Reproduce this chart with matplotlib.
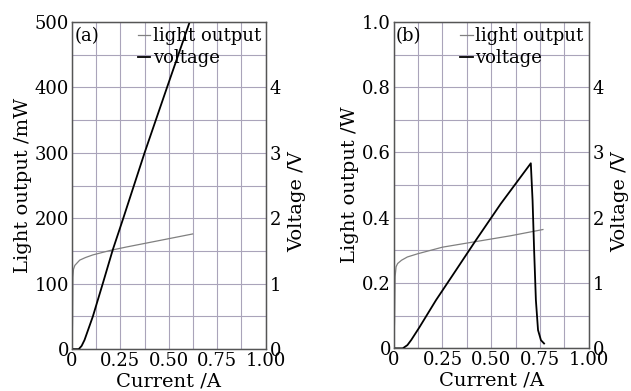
import numpy as np
import matplotlib
matplotlib.use("Agg")
import matplotlib.pyplot as plt
from matplotlib.ticker import MultipleLocator, FixedLocator

plt.rcParams["font.family"] = ["DejaVu Serif"]
plt.rcParams["mathtext.fontset"] = "dejavuserif"

# panel (a): grey curve "light output" (mW), black curve "voltage" (V)
cur_light_a = [0, 0.003, 0.005, 0.008, 0.015, 0.04, 0.07, 0.108, 0.2, 0.28, 0.452, 0.623]
light_a = [0, 40, 110, 122, 128, 136, 140, 144, 151, 156, 166, 176]
cur_volt_a = [0, 0.035, 0.05, 0.065, 0.108, 0.16, 0.211, 0.265, 0.375, 0.491, 0.608]
volt_a = [0, 0, 0.05, 0.14, 0.5, 1.01, 1.52, 2.0, 3.0, 4.0, 5.0]

# panel (b): grey curve "light output" (W), black curve "voltage" (V)
cur_light_b = [0, 0.004, 0.007, 0.012, 0.02, 0.04, 0.07, 0.124, 0.25, 0.41, 0.6, 0.765]
light_b = [0, 0.08, 0.22, 0.25, 0.26, 0.27, 0.28, 0.29, 0.31, 0.326, 0.345, 0.364]
cur_volt_b = [0, 0.046, 0.07, 0.09, 0.131, 0.217, 0.302, 0.421, 0.549, 0.703,
              0.712, 0.72, 0.729, 0.74, 0.755, 0.771]
volt_b = [0, 0, 0.05, 0.13, 0.32, 0.74, 1.12, 1.655, 2.215, 2.835,
          2.265, 1.5, 0.74, 0.28, 0.125, 0.075]

x_ticks = [0, 0.25, 0.5, 0.75, 1.0]
x_ticklabels = ["0", "0.25", "0.50", "0.75", "1.00"]
v_ticks = [0, 1, 2, 3, 4]
y_ticks_a = [0, 100, 200, 300, 400, 500]
y_labels_a = ["0", "100", "200", "300", "400", "500"]
y_ticks_b = [0, 0.2, 0.4, 0.6, 0.8, 1.0]
y_labels_b = ["0", "0.2", "0.4", "0.6", "0.8", "1.0"]

GRID = "#aaa4ba"
SPINE = "#555555"
GREY = "#808080"


def panel(rect, tag, cx_l, yl, cx_v, yv, yticks, yticklabels, yminor, ylabel):
    ax = fig.add_axes(rect)
    ax.set_xlim(0, 1)
    ax.set_ylim(0, yticks[-1])
    ax.xaxis.set_major_locator(FixedLocator(x_ticks))
    ax.set_xticklabels(x_ticklabels)
    ax.xaxis.set_minor_locator(MultipleLocator(0.125))
    ax.yaxis.set_major_locator(FixedLocator(yticks))
    ax.set_yticklabels(yticklabels)
    ax.yaxis.set_minor_locator(MultipleLocator(yminor))
    ax.grid(which="both", color=GRID, lw=0.8)
    ax.set_axisbelow(True)
    ax.tick_params(which="both", length=0, labelsize=13, pad=2)
    for s in ax.spines.values():
        s.set_color(SPINE)
        s.set_linewidth(1.0)
    ax.set_xlabel("Current /A", fontsize=14, labelpad=2)
    ax.set_ylabel(ylabel, fontsize=14, labelpad=2)

    l1, = ax.plot(cx_l, yl, color=GREY, lw=0.9)

    ax2 = ax.twinx()
    ax2.set_ylim(0, 5)
    ax2.yaxis.set_major_locator(FixedLocator(v_ticks))
    ax2.tick_params(length=0, labelsize=13, pad=3)
    for s in ax2.spines.values():
        s.set_color(SPINE)
    ax2.set_ylabel("Voltage /V", fontsize=14)
    ax2.yaxis.set_label_coords(1.115, 0.45)
    l2, = ax2.plot(cx_v, yv, color="black", lw=1.3)

    ax2.text(0.012, 0.985, tag, transform=ax.transAxes, fontsize=13, va="top", ha="left")
    ax2.legend([l1, l2], ["light output", "voltage"], loc="upper left",
               bbox_to_anchor=(0.33, 0.99), frameon=False, fontsize=13,
               handlelength=0.7, handletextpad=0.15, labelspacing=0.25,
               borderpad=0.1, borderaxespad=0)
    return ax


fig = plt.figure(figsize=(6.31, 3.91), dpi=100)
panel([0.114, 0.107, 0.307, 0.837], "(a)", cur_light_a, light_a, cur_volt_a, volt_a,
      y_ticks_a, y_labels_a, 50, "Light output /mW")
panel([0.624, 0.109, 0.309, 0.835], "(b)", cur_light_b, light_b, cur_volt_b, volt_b,
      y_ticks_b, y_labels_b, 0.1, "Light output /W")

fig.savefig("out.png", dpi=100)
